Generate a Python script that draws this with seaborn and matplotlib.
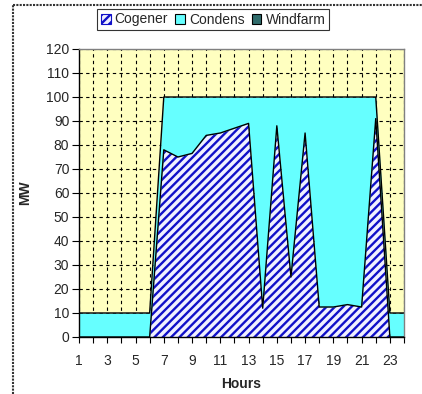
import numpy as np
import pandas as pd
import matplotlib
matplotlib.use("Agg")
import matplotlib.pyplot as plt
import seaborn as sns
from matplotlib.patches import Patch
from matplotlib.lines import Line2D

hours = list(range(1, 25))
cogener = [0, 0, 0, 0, 0, 0, 78, 75, 76.5, 84, 85, 87, 89, 12, 88, 25, 85,
           12.5, 12.5, 13.5, 12.5, 91, 0, 0]
condens = [10, 10, 10, 10, 10, 10, 22, 25, 23.5, 16, 15, 13, 11, 88, 12, 75, 15,
           87.5, 87.5, 86.5, 87.5, 9, 10, 10]
windfarm = [0] * 24
series_names = ["Cogener", "Condens", "Windfarm"]
x_ticklabels = [str(h) for h in range(1, 24, 2)]

df = pd.DataFrame({"Hours": hours, "Cogener": cogener,
                   "Condens": condens, "Windfarm": windfarm})
df["lvl1"] = df["Cogener"]
df["lvl2"] = df["lvl1"] + df["Condens"]
df["lvl3"] = df["lvl2"] + df["Windfarm"]

sns.set_style("white")
plt.rcParams["font.family"] = ["Liberation Sans", "DejaVu Sans"]
plt.rcParams["hatch.linewidth"] = 1.7

fig = plt.figure(figsize=(4.22, 3.94), dpi=100)
ax = fig.add_axes([79 / 422, 1 - 337 / 394, (404 - 79) / 422, (337 - 49) / 394])
ax.set_facecolor("#FFFFC0")

cyan = "#66FFFF"
blue = "#1010C8"
hatch_bg = "#F0F0FF"
wind = "#2F6B6B"

x = df["Hours"].to_numpy()
ax.fill_between(x, 0, df["lvl1"], facecolor=hatch_bg, edgecolor=blue,
                hatch="////", linewidth=0, zorder=2)
ax.fill_between(x, df["lvl1"], df["lvl2"], facecolor=cyan, linewidth=0, zorder=2)
ax.fill_between(x, df["lvl2"], df["lvl3"], facecolor=wind, linewidth=0, zorder=2)
sns.lineplot(x="Hours", y="lvl1", data=df, color="black", linewidth=1.0, ax=ax, zorder=3)
sns.lineplot(x="Hours", y="lvl2", data=df, color="black", linewidth=1.0, ax=ax, zorder=3)

ax.set_xlim(1, 24)
ax.set_ylim(0, 120)
ax.set_xticks(range(1, 25))
ax.set_xticklabels([str(h) if h % 2 == 1 and h < 24 else "" for h in range(1, 25)])
ax.set_yticks(range(0, 121, 10))
ax.grid(True, color="black", linestyle=(0, (3, 3)), linewidth=0.8, zorder=1)
ax.set_axisbelow(True)
for s in ax.spines.values():
    s.set_color("#808080")
    s.set_linewidth(1.0)
ax.spines["bottom"].set_color("black")
ax.spines["left"].set_color("black")
ax.tick_params(axis="x", direction="out", length=4, width=0.8, color="black",
               labelsize=10, pad=8, bottom=True)
ax.tick_params(axis="y", direction="out", length=5, width=0.8, color="black",
               labelsize=10, pad=2, left=True)
ax.set_xlabel("Hours", fontsize=10, fontweight="bold", labelpad=7)
ax.set_ylabel("MW", fontsize=10, fontweight="bold", labelpad=10)

handles = [Patch(facecolor=hatch_bg, edgecolor=blue, hatch="////", linewidth=0.8),
           Patch(facecolor=cyan, edgecolor="black", linewidth=0.8),
           Patch(facecolor=wind, edgecolor="black", linewidth=0.8)]
leg = fig.legend(handles, series_names, loc="center", bbox_to_anchor=(0.505, 1 - 19.5 / 394),
                 ncol=3, fontsize=10, frameon=True, fancybox=False, shadow=False,
                 handlelength=0.7, handleheight=0.7, handletextpad=0.3,
                 columnspacing=0.5, borderpad=0.25, edgecolor="black")
leg.get_frame().set_linewidth(0.8)

fig.add_artist(Line2D([13 / 422, 13 / 422], [0, 1 - 5 / 394], transform=fig.transFigure,
                      color="#333333", linewidth=1.5, linestyle=(0, (1, 0.6))))
fig.add_artist(Line2D([13 / 422, 1], [1 - 5 / 394, 1 - 5 / 394], transform=fig.transFigure,
                      color="#333333", linewidth=1.5, linestyle=(0, (1, 0.6))))

fig.savefig("out.png", dpi=100)
